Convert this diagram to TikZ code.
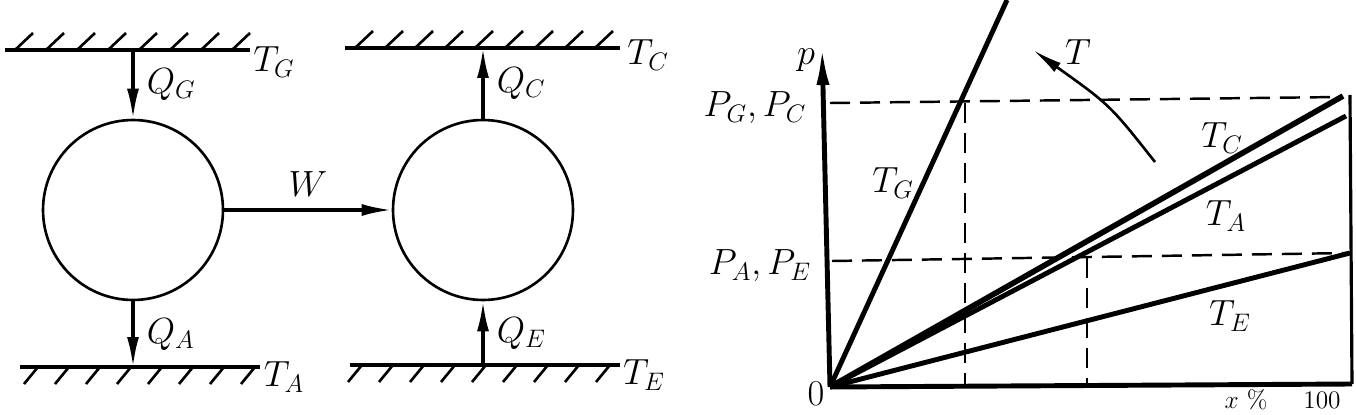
\documentclass[tikz,border=0pt]{standalone}
\usetikzlibrary{arrows.meta}
\usetikzlibrary{calc}

\begin{document}
\begin{tikzpicture}[x=0.02cm,y=-0.02cm,
  machine/.style={circle,draw,line width=1.5pt,minimum size=3.6cm,inner sep=0},
  wall/.style={line width=2pt},
  hatch/.style={line width=1.5pt},
  flow/.style={line width=1.8pt,-{Latex[length=6mm,width=2.4mm]}},
  lab/.style={font=\huge,inner sep=1pt},
  small lab/.style={font=\Large,inner sep=0pt},
  curve/.style={line width=2.8pt},
  guide/.style={line width=1.4pt,dash pattern=on 4mm off 2mm}]

  \useasboundingbox (0,0) rectangle (1356,415);

  \node[machine] (eng) at (133,210) {};
  \node[machine] (pump) at (483,210) {};

  \coordinate (gw) at (133,50);
  \coordinate (aw) at (133,367);
  \coordinate (cw) at (483,48);
  \coordinate (ew) at (483,365);

  \draw[wall] (5,50) -- (250,50);
  \foreach \x in {15,46,...,232} \draw[hatch] (\x,50) -- ++(18,-17);
  \draw[wall] (20,367) -- (260,367);
  \foreach \x in {38,69,...,258} \draw[hatch] (\x,367) -- ++(-14,17);
  \draw[wall] (345,48) -- (620,48);
  \foreach \x in {355,385,...,600} \draw[hatch] (\x,48) -- ++(18,-17);
  \draw[wall] (350,365) -- (620,365);
  \foreach \x in {362,393,...,612} \draw[hatch] (\x,365) -- ++(-14,17);

  \node[lab] (tg) at (274,62) {$T_G$};
  \node[lab] (ta) at (284,377) {$T_A$};
  \node[lab] (tc) at (648,55) {$T_C$};
  \node[lab] (te) at (644,375) {$T_E$};

  \draw[flow] (gw) -- (eng.north) node[lab,midway,right=6pt] {$Q_G$};
  \draw[flow] (eng.south) -- (aw) node[lab,midway,right=6pt] {$Q_A$};
  \draw[flow] (pump.north) -- (cw) node[lab,midway,right=6pt] {$Q_C$};
  \draw[flow] (ew) -- (pump.south) node[lab,midway,right=6pt] {$Q_E$};
  \draw[flow] (eng.east) -- (pump.west) node[lab,midway,above=6pt] {$W$};

  \coordinate (O) at (830,387);
  \coordinate (ptop) at (822,45);
  \coordinate (xend) at (1352,384);
  \coordinate (rtop) at (1350,95);
  \coordinate (gend) at (1007,0);
  \coordinate (cend) at (1343,96);
  \coordinate (aend) at (1346,116);
  \coordinate (eend) at (1350,253);

  \draw[guide] (830,103) -- (1340,97);
  \draw[guide] (832,261) -- (1348,253);
  \draw[guide] (965,103) -- (965,385);
  \draw[guide] (1087,258) -- (1087,385);

  \draw[curve,-{Latex[length=8mm,width=2.6mm]}] (O) -- (ptop);
  \draw[curve] (O) -- (xend);
  \draw[line width=1.8pt] (xend) -- (rtop);
  \draw[curve] (O) -- (gend);
  \draw[curve,line width=3.2pt] (O) -- (cend);
  \draw[curve] (O) -- (aend);
  \draw[curve] (O) -- (eend);

  \draw[line width=1.5pt,-{Latex[length=6mm,width=2.2mm]}] (1155,162) .. controls (1110,105) .. (1033,50);

  \node[lab] (plab) at (806,60) {$p$};
  \node[lab] (pgc) at (755,108) {$P_G,P_C$};
  \node[lab] (pae) at (760,266) {$P_A,P_E$};
  \node[lab] (zero) at (816,394) {$0$};
  \node[small lab] (xlab) at (1246,400) {$x$~\%};
  \node[small lab] (hundred) at (1322,400) {$100$};
  \node[lab] (tgl) at (893,183) {$T_G$};
  \node[lab] (tcl) at (1222,138) {$T_C$};
  \node[lab] (tal) at (1226,216) {$T_A$};
  \node[lab] (tel) at (1230,316) {$T_E$};
  \node[lab] (tl) at (1078,52) {$T$};
\end{tikzpicture}
\end{document}
